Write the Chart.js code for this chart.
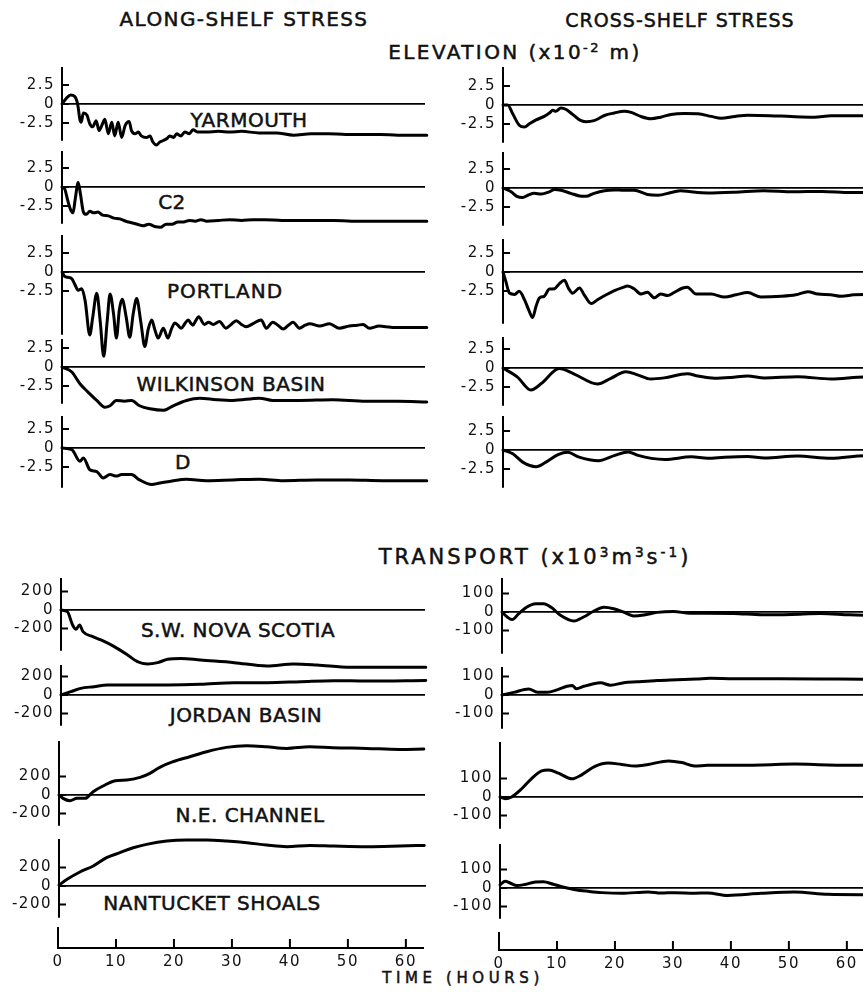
<!DOCTYPE html>
<html>
<head>
<meta charset="utf-8">
<script src="https://cdn.jsdelivr.net/npm/chart.js@4.4.1/dist/chart.umd.min.js"></script>
<style>
  body { margin: 0; width: 863px; height: 992px; overflow: hidden; background: #fff; position: relative; font-family: "DejaVu Sans"; color: #111; }
  canvas { position: absolute; }
  .lbl { position: absolute; transform: translate(-50%, -50%); white-space: nowrap; font-size: 20px; line-height: 1; letter-spacing: 0.5px; -webkit-text-stroke: 0.5px #111; }
  .lbl sup { font-size: 0.65em; vertical-align: baseline; position: relative; top: -0.55em; }
</style>
</head>
<body>
<div class="lbl" style="left:244px;top:19px;letter-spacing:1.4px">ALONG-SHELF STRESS</div>
<div class="lbl" style="left:680px;top:20px;font-size:19px;letter-spacing:1px">CROSS-SHELF STRESS</div>
<div class="lbl" style="left:515px;top:52px;letter-spacing:2.4px">ELEVATION (x10<sup>-2</sup> m)</div>
<div class="lbl" style="left:535px;top:557px;font-size:21px;letter-spacing:3px">TRANSPORT (x10<sup>3</sup>m<sup>3</sup>s<sup>-1</sup>)</div>

<div class="lbl" style="left:249px;top:120px">YARMOUTH</div>
<div class="lbl" style="left:172px;top:202px">C2</div>
<div class="lbl" style="left:225px;top:291px;letter-spacing:1px">PORTLAND</div>
<div class="lbl" style="left:231px;top:384px">WILKINSON BASIN</div>
<div class="lbl" style="left:183px;top:462px">D</div>
<div class="lbl" style="left:238px;top:630px">S.W. NOVA SCOTIA</div>
<div class="lbl" style="left:246px;top:715px">JORDAN BASIN</div>
<div class="lbl" style="left:250px;top:815px">N.E. CHANNEL</div>
<div class="lbl" style="left:212px;top:903px">NANTUCKET SHOALS</div>
<div class="lbl" style="left:463px;top:978px;font-size:15px;letter-spacing:4.6px">TIME (HOURS)</div>

<script>
// ---- elevation, along-shelf stress (x10^-2 m) ----
var yarmouthT = [0, 0.8, 1.5, 2.2, 2.7, 3.1, 3.3, 3.7, 4.3, 4.8, 5.3, 5.9, 6.4, 7.0, 7.4, 8.0, 8.6, 9.1, 9.7, 10.3, 10.9, 11.6, 12.0, 12.6, 13.2, 13.7, 14.6, 15.2, 15.7, 16.3, 16.9, 17.5, 18.2, 18.6, 19.3, 19.8, 20.5, 21.2, 22.0, 22.6, 23.5, 25, 27, 29, 31, 34, 37, 40, 43, 46, 49, 52, 55, 58, 61, 63];
var yarmouthV = [0, 0.8, 1.2, 1.0, 0, -2.1, -2.4, -1.2, -1.45, -2.6, -3.0, -2.2, -3.5, -2.6, -2.0, -3.9, -2.4, -4.2, -2.4, -4.4, -2.85, -2.3, -3.5, -3.9, -3.7, -4.2, -4.4, -4.2, -5.0, -5.4, -5.0, -4.8, -4.5, -4.2, -4.4, -3.9, -4.2, -3.7, -3.9, -3.4, -3.7, -3.7, -3.6, -3.7, -3.6, -3.8, -3.8, -4.1, -3.9, -3.9, -4.0, -4.0, -4.0, -4.1, -4.1, -4.1];

var c2T = [0, 0.5, 1, 1.5, 1.9, 2.3, 2.8, 3.2, 3.7, 4.2, 4.8, 5.5, 6.2, 7, 8, 9, 10, 11, 12, 13, 14, 15, 16, 17, 18, 19, 20, 21, 22, 23, 24, 25, 27, 29, 31, 33, 35, 38, 41, 44, 47, 50, 53, 56, 59, 63];
var c2V = [0, -0.3, -1.8, -3.0, -3.4, -1.5, 0.6, -1.0, -3.3, -3.6, -3.2, -3.4, -3.3, -3.7, -3.8, -4.1, -4.2, -4.5, -4.7, -4.9, -5.1, -4.9, -5.2, -5.3, -4.9, -4.9, -4.6, -4.6, -4.4, -4.5, -4.3, -4.5, -4.4, -4.3, -4.4, -4.3, -4.3, -4.4, -4.4, -4.4, -4.4, -4.5, -4.5, -4.5, -4.5, -4.5];

var portlandT = [0, 0.5, 1.0, 1.7, 2.2, 2.8, 3.4, 4.0, 4.8, 5.3, 6.0, 6.6, 7.2, 7.8, 8.3, 8.9, 9.4, 9.9, 10.4, 11.1, 11.7, 12.3, 12.9, 13.6, 14.3, 14.9, 15.5, 16.0, 16.6, 17.5, 18.3, 18.9, 19.5, 20.0, 20.6, 21.2, 21.8, 22.2, 22.6, 23.1, 23.6, 24.6, 25.3, 26.1, 27.2, 28.3, 29.2, 30.1, 31.0, 31.8, 33.0, 34.4, 35.3, 36.4, 37.3, 38.2, 39.1, 39.9, 41.0, 42.0, 42.8, 44.5, 46.2, 47.9, 49.6, 51.0, 52.0, 53.1, 54.8, 56.0, 57.1, 59.4, 61, 63];
var portlandV = [0, -0.6, -0.7, -0.9, -1.6, -2.4, -2.2, -3.8, -8.3, -6.0, -2.8, -6.5, -11.1, -6.5, -2.9, -5.5, -8.7, -5.0, -3.6, -6.0, -8.6, -5.5, -3.5, -6.5, -9.8, -7.5, -6.3, -7.5, -8.7, -7.4, -8.7, -7.5, -6.7, -7.0, -7.4, -6.8, -6.3, -6.7, -7.0, -6.4, -5.9, -6.9, -6.6, -6.9, -6.5, -7.4, -6.9, -6.4, -6.9, -7.2, -6.8, -6.3, -7.4, -6.6, -7.0, -7.5, -7.0, -6.6, -7.4, -7.0, -6.8, -7.1, -6.8, -7.4, -7.1, -7.0, -6.9, -7.4, -7.1, -7.2, -7.3, -7.3, -7.3, -7.3];

var wilkinsonT = [0, 1.7, 3.1, 4.5, 6.0, 7.4, 8.3, 9.4, 10.8, 12.0, 13.4, 15.2, 17.5, 19.2, 21.5, 23.8, 26.7, 29.5, 34.1, 36.4, 41, 46.8, 52.5, 58, 63];
var wilkinsonV = [0, -0.66, -2.2, -3.3, -4.4, -5.3, -5.1, -4.4, -4.5, -4.4, -5.1, -5.5, -5.7, -5.1, -4.4, -4.1, -4.3, -4.4, -4.1, -4.4, -4.4, -4.3, -4.5, -4.5, -4.6];

var dT = [0, 1.7, 3.1, 3.7, 4.8, 6.0, 7.1, 8.3, 9.4, 10.3, 12.0, 13.4, 15.5, 16.9, 18.6, 21.5, 24.9, 29.5, 34.1, 38.2, 43.9, 49.6, 55.4, 63];
var dV = [0, -0.2, -1.75, -1.3, -2.85, -3.1, -3.95, -3.5, -3.7, -3.5, -3.5, -4.2, -4.8, -4.6, -4.4, -4.1, -4.3, -4.2, -4.1, -4.3, -4.2, -4.2, -4.3, -4.3];

// ---- elevation, cross-shelf stress ----
var xYarmouthT = [0, 0.8, 1.7, 2.8, 3.7, 4.5, 5.7, 7.1, 8.0, 8.6, 9.1, 10.0, 10.9, 12.0, 13.2, 14.3, 15.7, 17.5, 19.2, 20.9, 22.1, 23.8, 25.5, 27.2, 29.0, 31.3, 33.6, 35.9, 37.6, 40, 42.2, 46, 49.7, 53.7, 56.6, 60, 64];
var xYarmouthV = [0, 0, -1.2, -2.66, -2.9, -2.5, -1.96, -1.5, -1.06, -0.7, -0.83, -0.38, -0.59, -1.23, -1.96, -2.2, -2.06, -1.38, -1.05, -0.81, -0.97, -1.52, -1.81, -1.6, -1.24, -1.13, -1.15, -1.5, -1.75, -1.5, -1.35, -1.4, -1.52, -1.6, -1.4, -1.4, -1.4];

var xC2T = [0, 1.4, 2.5, 3.4, 4.3, 5.4, 6.6, 8.0, 8.9, 10.0, 11.7, 13.2, 14.3, 15.7, 17.5, 19.2, 20.9, 22.6, 24.9, 26.7, 29.0, 30.7, 32.4, 35.3, 40, 45, 50, 55, 60, 64];
var xC2V = [0, -0.5, -1.15, -1.25, -0.95, -0.7, -0.8, -0.5, -0.2, -0.3, -0.7, -1.05, -1.1, -0.7, -0.35, -0.25, -0.3, -0.3, -0.85, -0.95, -0.6, -0.35, -0.5, -0.65, -0.55, -0.35, -0.5, -0.45, -0.6, -0.6];

var xPortlandT = [0, 0.5, 1.1, 2.0, 2.8, 3.7, 4.5, 5.1, 5.7, 6.3, 7.1, 8.0, 8.9, 9.7, 10.6, 11.3, 12.0, 13.2, 14.0, 15.2, 16.3, 17.8, 19.2, 20.6, 21.5, 22.6, 23.8, 24.9, 26.1, 27.2, 28.4, 29.5, 31.0, 31.8, 33.3, 35.9, 38.2, 40.2, 42.2, 44.5, 48, 50.5, 52.6, 54.3, 56.5, 58.4, 60.5, 62.4, 64];
var xPortlandV = [0, -1.27, -2.76, -2.95, -2.54, -3.63, -5.12, -6.0, -4.5, -3.4, -3.2, -2.25, -2.2, -1.55, -1.1, -2.15, -2.8, -2.1, -3.0, -4.15, -3.65, -3.0, -2.45, -2.05, -1.85, -2.2, -2.9, -2.65, -3.4, -2.9, -3.1, -2.7, -2.1, -2.0, -2.9, -2.9, -3.3, -3.0, -2.7, -3.3, -3.2, -3.0, -2.6, -2.9, -3.0, -3.2, -3.0, -2.95, -3.0];

var xWilkinsonT = [0, 2.5, 4.8, 6.6, 9.7, 12.3, 16.3, 18.6, 21.2, 23.2, 25.5, 27.8, 31.8, 33.6, 36.5, 39.3, 42.2, 45.1, 50.8, 56.6, 62.4, 64];
var xWilkinsonV = [0, -1.2, -2.9, -2.05, -0.05, -0.8, -2.1, -1.35, -0.5, -0.9, -1.45, -1.3, -0.75, -1.05, -1.35, -1.25, -1.05, -1.3, -1.15, -1.45, -1.2, -1.2];

var xDT = [0, 1.7, 3.4, 5.7, 7.4, 9.5, 11.2, 13.0, 16.5, 19.3, 21.6, 23.3, 25.6, 27.9, 32.5, 35.3, 38.2, 42.2, 45.1, 50.8, 56.6, 62.4, 64];
var xDV = [0, -0.5, -1.6, -2.2, -1.6, -0.6, -0.3, -0.9, -1.4, -0.7, -0.25, -0.7, -1.1, -1.25, -0.9, -1.1, -0.95, -0.85, -1.05, -0.8, -1.1, -0.75, -0.8];

// ---- transport, along-shelf stress (x10^3 m^3/s) ----
var novaScotiaT = [0, 1.1, 2.0, 2.6, 3.2, 3.8, 5.5, 6.9, 9.2, 11.5, 13.2, 14.9, 16.7, 18.4, 20.7, 24.1, 29.9, 35.6, 40.2, 44.2, 50, 55.7, 63];
var novaScotiaV = [0, -18, -162, -209, -162, -234, -288, -324, -396, -486, -559, -584, -569, -533, -523, -541, -569, -605, -584, -595, -620, -620, -620];

var jordanT = [0, 1.7, 3.4, 5.7, 8, 12.6, 18.4, 24.1, 29.9, 35.6, 41.4, 47.1, 52.9, 63];
var jordanV = [0, 36, 72, 90, 108, 108, 108, 115, 133, 133, 144, 155, 151, 158];

var neChannelT = [0, 0.7, 1.9, 3.1, 4.5, 5.9, 7.6, 9.7, 11.7, 14, 15.7, 17.4, 19.7, 22.6, 25.5, 28.9, 32.4, 35.8, 39.3, 43.3, 47.3, 53.1, 58.8, 63];
var neChannelV = [0, -36, -61, -36, -36, 36, 97, 155, 162, 191, 234, 299, 360, 414, 468, 515, 533, 522, 504, 522, 511, 504, 493, 497];

var nantucketT = [0, 1.4, 3.6, 5.9, 8.2, 10.5, 12.8, 15.1, 18.6, 22, 25.5, 28.9, 32.4, 35.8, 39.3, 43.3, 47.3, 53.1, 58.8, 63];
var nantucketV = [10, 72, 151, 216, 306, 360, 414, 450, 486, 497, 497, 486, 468, 443, 425, 439, 432, 425, 432, 439];

// ---- transport, cross-shelf stress ----
var xNovaScotiaT = [0, 0.9, 1.75, 2.9, 4.3, 5.8, 7.2, 8.6, 10.1, 12.4, 14.1, 15.8, 17.6, 19.3, 21, 22.7, 24.5, 26.8, 29.6, 32.5, 35.4, 40, 45, 50, 55, 60, 64];
var xNovaScotiaV = [0, -27, -41, -9, 27, 45, 45, 23, -18, -49, -27, 4, 26, 18, 0, -21, -16, -2, 3, -7, -7, -8, -15, -13, -8, -15, -18];

var xJordanT = [0, 2, 4.6, 6.1, 7.8, 9.5, 11.2, 12.1, 12.8, 14.1, 15.8, 17, 18.7, 21, 23.3, 26.8, 30.2, 33.6, 35.9, 40, 47.8, 55, 62.3, 64];
var xJordanV = [0, 14, 33, 15, 15, 28, 47, 52, 34, 47, 61, 66, 53, 66, 71, 78, 82, 86, 90, 88, 88, 87, 85, 85];

var xNeChannelT = [0, 0.9, 2, 3.8, 5.5, 7.2, 8.4, 10.1, 12.4, 14.1, 16.4, 18.7, 21, 23.3, 25.6, 29.1, 31.4, 33.6, 35.9, 39.4, 45.2, 50.9, 56.6, 62.4, 64];
var xNeChannelV = [0, -9, 0, 46, 101, 141, 146, 129, 98, 120, 166, 184, 176, 167, 176, 195, 186, 168, 171, 171, 173, 178, 173, 171, 171];

var xNantucketT = [0, 0.9, 1.75, 2.9, 4.3, 6.1, 7.5, 9.2, 11.2, 13, 15.3, 17.6, 21, 25.6, 27.8, 30.2, 33.6, 35.9, 39.3, 45.1, 50.9, 56.6, 62.4, 64];
var xNantucketV = [18, 36, 27, 13, 19, 33, 34, 20, 3, -9, -18, -25, -29, -21, -27, -25, -28, -27, -40, -29, -22, -34, -36, -36];

// tick labels
var elevTicks = [-2.5, 0, 2.5];
var alongTransportTicks = [-200, 0, 200];
var crossTransportTicks = [-100, 0, 100];
var hourTicks = [0, 10, 20, 30, 40, 50, 60];

Chart.defaults.font.family = 'DejaVu Sans';
Chart.defaults.color = '#111';

// x: axis pixel, top/bottom: axis ends, zero: zero line pixel, ppu: pixels per unit
var panels = [
  { t: yarmouthT, v: yarmouthV, x: 62, top: 68, bottom: 140, zero: 104, ppu: 7.6, ticks: elevTicks, right: 425 },
  { t: c2T, v: c2V, x: 62, top: 152, bottom: 223, zero: 187, ppu: 7.6, ticks: elevTicks, right: 425 },
  { t: portlandT, v: portlandV, x: 62, top: 236, bottom: 334, zero: 272, ppu: 7.6, ticks: elevTicks, right: 425 },
  { t: wilkinsonT, v: wilkinsonV, x: 62, top: 340, bottom: 403, zero: 367, ppu: 7.6, ticks: elevTicks, right: 425 },
  { t: dT, v: dV, x: 62, top: 417, bottom: 487, zero: 448, ppu: 7.6, ticks: elevTicks, right: 425 },

  { t: xYarmouthT, v: xYarmouthV, x: 502.5, top: 68, bottom: 142, zero: 105, ppu: 7.6, ticks: elevTicks, right: 875 },
  { t: xC2T, v: xC2V, x: 502.5, top: 153, bottom: 225, zero: 188, ppu: 7.6, ticks: elevTicks, right: 875 },
  { t: xPortlandT, v: xPortlandV, x: 502.5, top: 240, bottom: 323, zero: 272, ppu: 7.6, ticks: elevTicks, right: 875 },
  { t: xWilkinsonT, v: xWilkinsonV, x: 502.5, top: 338, bottom: 405, zero: 368, ppu: 7.6, ticks: elevTicks, right: 875 },
  { t: xDT, v: xDV, x: 502.5, top: 417, bottom: 487, zero: 450, ppu: 7.6, ticks: elevTicks, right: 875 },

  { t: novaScotiaT, v: novaScotiaV, x: 61, top: 579, bottom: 650, zero: 610, ppu: 0.0925, ticks: alongTransportTicks, right: 425 },
  { t: jordanT, v: jordanV, x: 61, top: 666, bottom: 725, zero: 695, ppu: 0.0925, ticks: alongTransportTicks, right: 425 },
  { t: neChannelT, v: neChannelV, x: 59, top: 742, bottom: 825, zero: 795, ppu: 0.0925, ticks: alongTransportTicks, right: 425 },
  { t: nantucketT, v: nantucketV, x: 58.5, top: 840, bottom: 917, zero: 886, ppu: 0.0925, ticks: alongTransportTicks, right: 425 },

  { t: xNovaScotiaT, v: xNovaScotiaV, x: 502, top: 579, bottom: 653, zero: 612, ppu: 0.185, ticks: crossTransportTicks, right: 875 },
  { t: xJordanT, v: xJordanV, x: 501.5, top: 668, bottom: 728, zero: 695, ppu: 0.185, ticks: crossTransportTicks, right: 875 },
  { t: xNeChannelT, v: xNeChannelV, x: 500, top: 743, bottom: 828, zero: 797, ppu: 0.185, ticks: crossTransportTicks, right: 875 },
  { t: xNantucketT, v: xNantucketV, x: 500, top: 845, bottom: 918, zero: 888, ppu: 0.185, ticks: crossTransportTicks, right: 875 }
];

var timeAxes = [
  { x: 57.5, top: 928, axisY: 948, right: 422 },
  { x: 498.5, top: 933, axisY: 950, right: 875 }
];

var PX_PER_HOUR = 5.79;

// tick marks drawn on the inner side of the axis, like the original plot
var innerTicks = {
  id: 'innerTicks',
  beforeDraw: function (chart) { chart.ctx.letterSpacing = '1.5px'; },
  afterDraw: function (chart, args, opts) {
    var s = chart.scales[opts.axis], ctx = chart.ctx;
    ctx.save();
    ctx.strokeStyle = '#000';
    ctx.lineWidth = 2;
    ctx.beginPath();
    s.ticks.forEach(function (tk) {
      var px = s.getPixelForValue(tk.value);
      if (opts.axis === 'y') {
        ctx.moveTo(s.right, px);
        ctx.lineTo(s.right + opts.length, px);
      } else {
        ctx.moveTo(px, s.top);
        ctx.lineTo(px, s.top - opts.length);
      }
    });
    ctx.stroke();
    ctx.restore();
  }
};

function addCanvas(left, top, w, h) {
  var c = document.createElement('canvas');
  c.width = Math.round(w);
  c.height = Math.round(h);
  c.style.left = left + 'px';
  c.style.top = top + 'px';
  document.body.appendChild(c);
  return c;
}

function makePanel(p) {
  var padTop = 40, padBottom = 60, labelW = 55, padRight = 6;
  var chartW = p.right - p.x;
  var c = addCanvas(p.x - labelW, p.top - padTop, labelW + chartW + padRight, padTop + (p.bottom - p.top) + padBottom);
  var pts = p.t.map(function (t, i) { return { x: t, y: p.v[i] }; });

  new Chart(c, {
    type: 'line',
    data: {
      datasets: [{
        data: pts,
        borderColor: '#000',
        borderWidth: 3,
        pointRadius: 0,
        cubicInterpolationMode: 'monotone',
        borderJoinStyle: 'round',
        borderCapStyle: 'round',
        clip: false
      }]
    },
    plugins: [innerTicks],
    options: {
      responsive: false,
      animation: false,
      events: [],
      layout: { padding: { top: padTop, bottom: padBottom, left: 0, right: padRight } },
      plugins: { legend: { display: false }, tooltip: { enabled: false }, innerTicks: { axis: 'y', length: 7 } },
      scales: {
        x: { type: 'linear', display: false, min: 0, max: chartW / PX_PER_HOUR },
        y: {
          min: -(p.bottom - p.zero) / p.ppu,
          max: (p.zero - p.top) / p.ppu,
          afterFit: function (s) { s.width = labelW; },
          afterBuildTicks: function (s) { s.ticks = p.ticks.map(function (v) { return { value: v }; }); },
          border: { display: true, color: '#000', width: 2 },
          grid: {
            color: function (ctx) { return ctx.tick && ctx.tick.value === 0 ? '#000' : 'rgba(0,0,0,0)'; },
            lineWidth: 1.8,
            drawTicks: false
          },
          ticks: { color: '#111', padding: 7, font: { size: 15 } }
        }
      }
    }
  });
}

function makeTimeAxis(a) {
  var labelW = 25, padTop = 4, axisH = 30, padRight = 6;
  var chartW = a.right - a.x;
  var c = addCanvas(a.x - labelW, a.top - padTop, labelW + chartW + padRight, padTop + (a.axisY - a.top) + axisH);

  new Chart(c, {
    type: 'line',
    data: { datasets: [{ data: [], pointRadius: 0 }] },
    plugins: [innerTicks],
    options: {
      responsive: false,
      animation: false,
      events: [],
      layout: { padding: { top: padTop, bottom: 0, left: 0, right: padRight } },
      plugins: { legend: { display: false }, tooltip: { enabled: false }, innerTicks: { axis: 'x', length: 9 } },
      scales: {
        x: {
          type: 'linear', position: 'bottom', min: 0, max: chartW / PX_PER_HOUR,
          afterFit: function (s) { s.height = axisH; },
          afterBuildTicks: function (s) { s.ticks = hourTicks.map(function (v) { return { value: v }; }); },
          border: { display: true, color: '#000', width: 2 },
          grid: { drawOnChartArea: false, drawTicks: false },
          ticks: { color: '#111', padding: 5, maxRotation: 0, autoSkip: false, font: { size: 15 } }
        },
        y: {
          min: 0, max: 1,
          afterFit: function (s) { s.width = labelW; },
          ticks: { display: false },
          grid: { display: false },
          border: { display: true, color: '#000', width: 2 }
        }
      }
    }
  });
}

panels.forEach(makePanel);
timeAxes.forEach(makeTimeAxis);
</script>
</body>
</html>
